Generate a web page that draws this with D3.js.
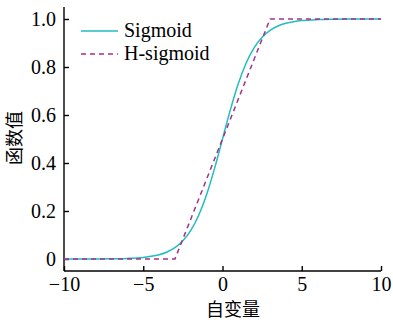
<!DOCTYPE html>
<html>
<head>
<meta charset="utf-8">
<script src="https://cdn.jsdelivr.net/npm/d3@7"></script>
<style>
body { margin: 0; background: #fff; }
</style>
</head>
<body>
<script>
// data
var sigmoid_x = [-10, -9, -8, -7, -6, -5, -4.5, -4, -3.5, -3, -2.5, -2, -1.5, -1, -0.5, 0,
	0.5, 1, 1.5, 2, 2.5, 3, 3.5, 4, 4.5, 5, 6, 7, 8, 9, 10];
var sigmoid_y = [0.0000, 0.0001, 0.0003, 0.0009, 0.0025, 0.0067, 0.0110, 0.0180, 0.0293, 0.0474,
	0.0759, 0.1192, 0.1824, 0.2689, 0.3775, 0.5, 0.6225, 0.7311, 0.8176, 0.8808, 0.9241,
	0.9526, 0.9707, 0.9820, 0.9890, 0.9933, 0.9975, 0.9991, 0.9997, 0.9999, 1.0000];
var hsigmoid_x = [-10, -3, 3, 10];
var hsigmoid_y = [0, 0, 1, 1];

var x_ticks = [-10, -5, 0, 5, 10];
var y_ticks = [0, 0.2, 0.4, 0.6, 0.8, 1.0];
var series_names = ["Sigmoid", "H-sigmoid"];
var series_colors = ["#22bdbd", "#a3318f"];

var width = 393, height = 320;
var font = "'Liberation Serif', 'Times New Roman', serif";

var svg = d3.select("body").append("svg")
	.attr("width", width)
	.attr("height", height);

var x = d3.scaleLinear().domain([-10, 10]).range([64, 381]);
var y = d3.scaleLinear().domain([0, 1]).range([259, 19]);
var axis_y_pos = 271;

// axes
var x_axis = svg.append("g")
	.attr("transform", "translate(0," + axis_y_pos + ")")
	.call(d3.axisBottom(x).tickValues(x_ticks).tickSizeInner(-5).tickSizeOuter(0).tickPadding(6)
		.tickFormat(function(d){ return d < 0 ? "\u2212" + Math.abs(d) : d; }));
x_axis.select(".domain").attr("d", "M" + x(-10) + ",0H" + x(10));

var y_axis = svg.append("g")
	.attr("transform", "translate(" + x(-10) + ",0)")
	.call(d3.axisLeft(y).tickValues(y_ticks).tickSizeInner(-5).tickSizeOuter(0).tickPadding(8)
		.tickFormat(function(d){ return d === 0 ? "0" : d3.format(".1f")(d); }));
y_axis.select(".domain").attr("d", "M0,7V" + axis_y_pos);

svg.selectAll(".tick text")
	.attr("font-family", font)
	.attr("font-size", 20)
	.attr("fill", "#000");
svg.selectAll(".domain, .tick line").attr("stroke", "#000").attr("stroke-width", 1.4);

// lines
var line = d3.line()
	.x(function(d){ return x(d[0]); })
	.y(function(d){ return y(d[1]); });

svg.append("path")
	.datum(d3.zip(sigmoid_x, sigmoid_y))
	.attr("d", line.curve(d3.curveMonotoneX))
	.attr("fill", "none")
	.attr("stroke", series_colors[0])
	.attr("stroke-width", 1.5);

svg.append("path")
	.datum(d3.zip(hsigmoid_x, hsigmoid_y))
	.attr("d", line.curve(d3.curveLinear))
	.attr("fill", "none")
	.attr("stroke", series_colors[1])
	.attr("stroke-width", 1.5)
	.attr("stroke-dasharray", "5,4");

// legend
var legend = svg.selectAll(".legend")
	.data(series_names)
	.enter()
	.append("g")
	.attr("transform", function(d, i){ return "translate(81," + (31 + i * 23) + ")"; });
legend.append("line")
	.attr("x1", 0).attr("x2", 37)
	.attr("stroke", function(d, i){ return series_colors[i]; })
	.attr("stroke-width", 1.5)
	.attr("stroke-dasharray", function(d, i){ return i ? "5,4" : null; });
legend.append("text")
	.attr("x", 43)
	.attr("y", 6)
	.attr("font-family", font)
	.attr("font-size", 20)
	.text(function(d){ return d; });

// axis titles
svg.append("text")
	.attr("x", 233).attr("y", 316)
	.attr("text-anchor", "middle")
	.attr("font-family", "'Noto Sans CJK SC', sans-serif")
	.attr("font-size", 18)
	.text("自变量");

svg.append("text")
	.attr("transform", "translate(21,138) rotate(-90)")
	.attr("text-anchor", "middle")
	.attr("font-family", "'Noto Sans CJK SC', sans-serif")
	.attr("font-size", 18)
	.text("函数值");
</script>
</body>
</html>
